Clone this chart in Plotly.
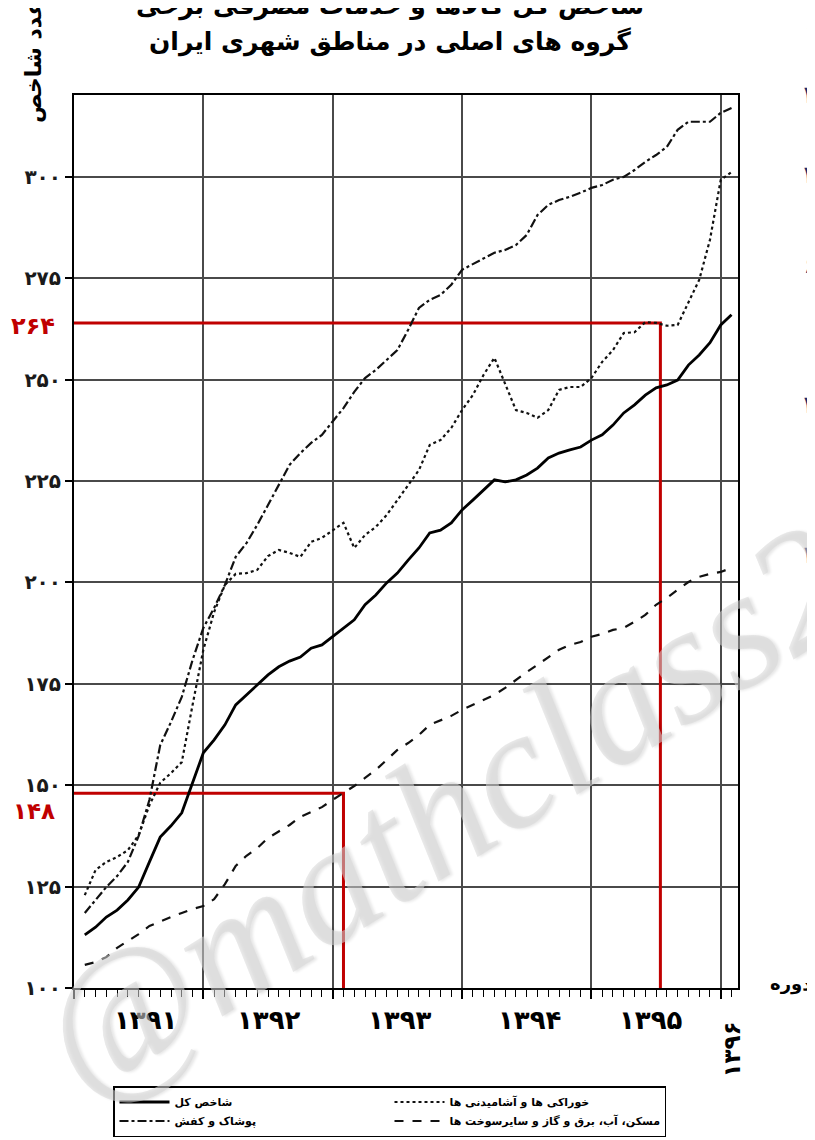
import plotly.graph_objects as go

# ---- data (month index from start of 1391) ----
months = list(range(1, 62))

total = [113.1, 115.0, 117.5, 119.2, 121.7, 124.9, 131.1, 137.2, 140.0, 143.2,
         150.6, 158.0, 161.2, 164.9, 169.8, 172.3, 174.7, 177.2, 179.2, 180.6,
         181.6, 183.8, 184.6, 186.6, 188.8, 190.8, 194.5, 196.9, 199.9, 202.3,
         205.5, 208.5, 212.2, 212.9, 214.7, 217.9, 220.3, 222.8, 225.3, 224.8,
         225.3, 226.5, 228.2, 230.7, 231.9, 232.7, 233.4, 235.1, 236.4, 238.8,
         241.8, 243.8, 246.2, 248.0, 248.7, 249.9, 253.6, 256.1, 259.1, 263.5,
         266.0]

food = [122.9, 129.1, 131.1, 132.3, 134.0, 137.7, 145.1, 150.6, 153.0, 155.7,
        169.8, 183.4, 192.7, 199.4, 202.1, 202.3, 203.1, 206.5, 208.0, 207.3,
        206.3, 210.0, 211.0, 212.9, 214.7, 208.5, 211.7, 213.7, 216.6, 220.3,
        224.0, 227.7, 233.9, 235.1, 238.1, 242.5, 246.2, 251.2, 255.4, 248.7,
        242.5, 241.8, 240.6, 242.5, 247.5, 248.2, 248.2, 250.4, 254.4, 257.3,
        261.5, 261.7, 264.2, 264.0, 263.3, 263.5, 268.9, 274.6, 284.5, 299.3,
        301.2]

clothing = [118.5, 121.7, 124.9, 127.6, 131.1, 137.5, 146.4, 159.9, 165.6, 171.8,
            180.9, 188.8, 193.7, 199.4, 206.3, 209.7, 214.2, 219.1, 224.0, 229.0,
            231.9, 234.4, 236.4, 239.6, 243.0, 247.0, 250.4, 252.4, 254.9, 257.3,
            262.3, 267.7, 269.7, 270.9, 273.4, 277.1, 278.5, 280.0, 281.3, 282.0,
            283.2, 285.7, 290.6, 293.1, 294.3, 295.1, 296.1, 297.3, 298.0, 299.3,
            300.0, 301.7, 303.7, 305.4, 307.4, 311.6, 313.6, 313.6, 313.6, 315.8,
            317.0]

housing = [105.7, 106.4, 107.6, 109.9, 111.6, 113.3, 115.3, 116.5, 117.5, 118.5,
           119.5, 120.2, 121.9, 125.6, 130.1, 132.6, 134.5, 137.0, 138.5, 140.2,
           142.2, 143.4, 144.6, 146.4, 148.1, 149.8, 151.8, 153.8, 156.2, 158.7,
           160.4, 162.4, 164.9, 166.1, 167.1, 168.6, 169.8, 171.0, 172.3, 174.0,
           176.0, 177.9, 179.7, 181.6, 183.4, 184.6, 185.3, 186.6, 187.3, 188.3,
           188.8, 190.3, 192.0, 194.5, 196.2, 198.2, 200.1, 201.4, 202.1, 202.6,
           203.6]

series_names = ["شاخص کل", "خوراکی ها و آشامیدنی ها", "پوشاک و کفش",
                "مسکن، آب، برق و گاز و سایرسوخت ها"]

year_labels = ["۱۳۹۱", "۱۳۹۲", "۱۳۹۳", "۱۳۹۴", "۱۳۹۵"]
year_pos = [6.6, 18.1, 30.2, 42.3, 53.5]
last_year_label = "۱۳۹۶"
last_year_pos = 61.0

y_tickvals = [100, 125, 150, 175, 200, 225, 250, 275, 300]
y_ticktext = ["۱۰۰", "۱۲۵", "۱۵۰", "۱۷۵", "۲۰۰", "۲۲۵", "۲۵۰", "۲۷۵", "۳۰۰"]

mark_month = [25.0, 54.4]
mark_value = [148, 264]
mark_text = ["۱۴۸", "۲۶۴"]

title_lines = ["شاخص کل کالاها و خدمات مصرفی برخی",
               "گروه های اصلی در مناطق شهری ایران"]

X_RANGE = [0, 61.6]
Y_RANGE = [100, 320.2]

FONT = "DejaVu Sans"
RED = "#c00000"

# The page body has an 8px margin, so the figure is sized to fit the window.
W, H = 807, 1132
ML, MR, MT, MB = 66, 77, 87, 152
PW, PH = W - ML - MR, H - MT - MB


def px_x(page_x):
    return (page_x - 8 - ML) / PW


def px_y(page_y):
    return (H - MB - (page_y - 8)) / PH


fig = go.Figure()

# red guide lines
fig.add_trace(go.Scatter(
    x=[X_RANGE[0], mark_month[0], mark_month[0]],
    y=[mark_value[0], mark_value[0], Y_RANGE[0] - 2.2],
    mode="lines", line=dict(color=RED, width=3), showlegend=False,
    hoverinfo="skip", cliponaxis=False))
fig.add_trace(go.Scatter(
    x=[X_RANGE[0] - 0.85, mark_month[1], mark_month[1]],
    y=[mark_value[1], mark_value[1], Y_RANGE[0]],
    mode="lines", line=dict(color=RED, width=3), showlegend=False,
    hoverinfo="skip", cliponaxis=False))

styles = [
    dict(color="black", width=2.8, dash="solid"),
    dict(color="#111111", width=2.2, dash="dot"),
    dict(color="#111111", width=2.2, dash="dashdot"),
    dict(color="#111111", width=2.2, dash="dash"),
]
for name, vals, st in zip(series_names, [total, food, clothing, housing], styles):
    fig.add_trace(go.Scatter(x=months, y=vals, mode="lines", name=name, line=st))

annotations = []
# title
annotations.append(dict(text="<b>" + title_lines[0] + "</b>", xref="paper", yref="paper",
                        x=px_x(390), y=px_y(6), xanchor="center", yanchor="middle",
                        showarrow=False, font=dict(family=FONT, size=25, color="black")))
annotations.append(dict(text="<b>" + title_lines[1] + "</b>", xref="paper", yref="paper",
                        x=px_x(390), y=px_y(42), xanchor="center", yanchor="middle",
                        showarrow=False, font=dict(family=FONT, size=25, color="black")))
# y-axis title (vertical)
annotations.append(dict(text="<b>عدد شاخص</b>", xref="paper", yref="paper",
                        x=px_x(33), y=px_y(62), xanchor="center", yanchor="middle",
                        textangle=-90, showarrow=False,
                        font=dict(family=FONT, size=22, color="black")))
# x-axis title
annotations.append(dict(text="<b>دوره</b>", xref="paper", yref="paper",
                        x=px_x(790), y=px_y(984), xanchor="center", yanchor="middle",
                        showarrow=False, font=dict(family=FONT, size=18, color="black")))
# year labels
for lab, pos in zip(year_labels, year_pos):
    annotations.append(dict(text="<b>" + lab + "</b>", xref="x", yref="paper",
                            x=pos, y=px_y(1020), xanchor="center", yanchor="middle",
                            showarrow=False, font=dict(family=FONT, size=26, color="black")))
annotations.append(dict(text="<b>" + last_year_label + "</b>", xref="x", yref="paper",
                        x=last_year_pos, y=px_y(1050), xanchor="center", yanchor="middle",
                        textangle=-90, showarrow=False,
                        font=dict(family=FONT, size=23, color="black")))
# red marker labels
annotations.append(dict(text="<b>" + mark_text[0] + "</b>", xref="paper", yref="paper",
                        x=px_x(57), y=px_y(811), xanchor="right", yanchor="middle",
                        showarrow=False, font=dict(family=FONT, size=23, color=RED)))
annotations.append(dict(text="<b>" + mark_text[1] + "</b>", xref="paper", yref="paper",
                        x=px_x(57), y=px_y(326), xanchor="right", yanchor="middle",
                        showarrow=False, font=dict(family=FONT, size=24, color=RED)))
# cut-off fragments on the right edge
for ypx, ch in [(35, "۱"), (95, "۴"), (175, "۴"), (265, "۶"), (405, "۴"), (555, "۴")]:
    annotations.append(dict(text="<b>" + ch + "</b>", xref="paper", yref="paper",
                            x=px_x(802), y=px_y(ypx),
                            xanchor="left", yanchor="middle", showarrow=False,
                            font=dict(family=FONT, size=24, color="#1b2a6b")))
# watermark
annotations.append(dict(text="@mathclass2", xref="paper", yref="paper",
                        x=px_x(445), y=px_y(810), xanchor="center", yanchor="middle",
                        textangle=-32, showarrow=False,
                        font=dict(family="Liberation Serif", size=170, style="italic",
                                  color="rgba(215,215,215,0.55)",
                                  shadow="2px 2px 3px rgba(0,0,0,0.18)")))

fig.update_layout(
    width=W, height=H,
    margin=dict(l=ML, r=MR, t=MT, b=MB),
    paper_bgcolor="white", plot_bgcolor="white",
    font=dict(family=FONT, color="black"),
    showlegend=True,
    legend=dict(orientation="h", xref="container", yref="container",
                x=(113 - 8) / W, xanchor="left", y=1 - (1086 - 8) / H, yanchor="top",
                entrywidth=210, entrywidthmode="pixels", itemwidth=50,
                bordercolor="black", borderwidth=1.5, bgcolor="white",
                traceorder="normal", tracegroupgap=0,
                font=dict(family=FONT, size=11, color="black", weight="bold")),
    annotations=annotations,
    xaxis=dict(range=X_RANGE, tickmode="array", tickvals=[0, 12, 24, 36, 48, 60],
               ticktext=[""] * 6, ticks="outside", ticklen=9, tickwidth=1.5,
               tickcolor="black", showgrid=True, gridcolor="#4a4a4a", gridwidth=1.6,
               showline=True, linecolor="black", linewidth=2, mirror=True,
               zeroline=False, automargin=False,
               minor=dict(dtick=1, tick0=0, ticks="outside", ticklen=7,
                          tickwidth=1.3, tickcolor="black", showgrid=False)),
    yaxis=dict(range=Y_RANGE, tickmode="array", tickvals=y_tickvals,
               ticktext=["<b>" + t + "</b>" for t in y_ticktext],
               ticks="outside", ticklen=7, tickwidth=1.5, tickcolor="black",
               tickfont=dict(family=FONT, size=20, color="#1a1a1a"),
               showgrid=True, gridcolor="#4a4a4a", gridwidth=1.6,
               showline=True, linecolor="black", linewidth=2, mirror=True,
               zeroline=False, automargin=False),
)

fig.write_html("out.html")
